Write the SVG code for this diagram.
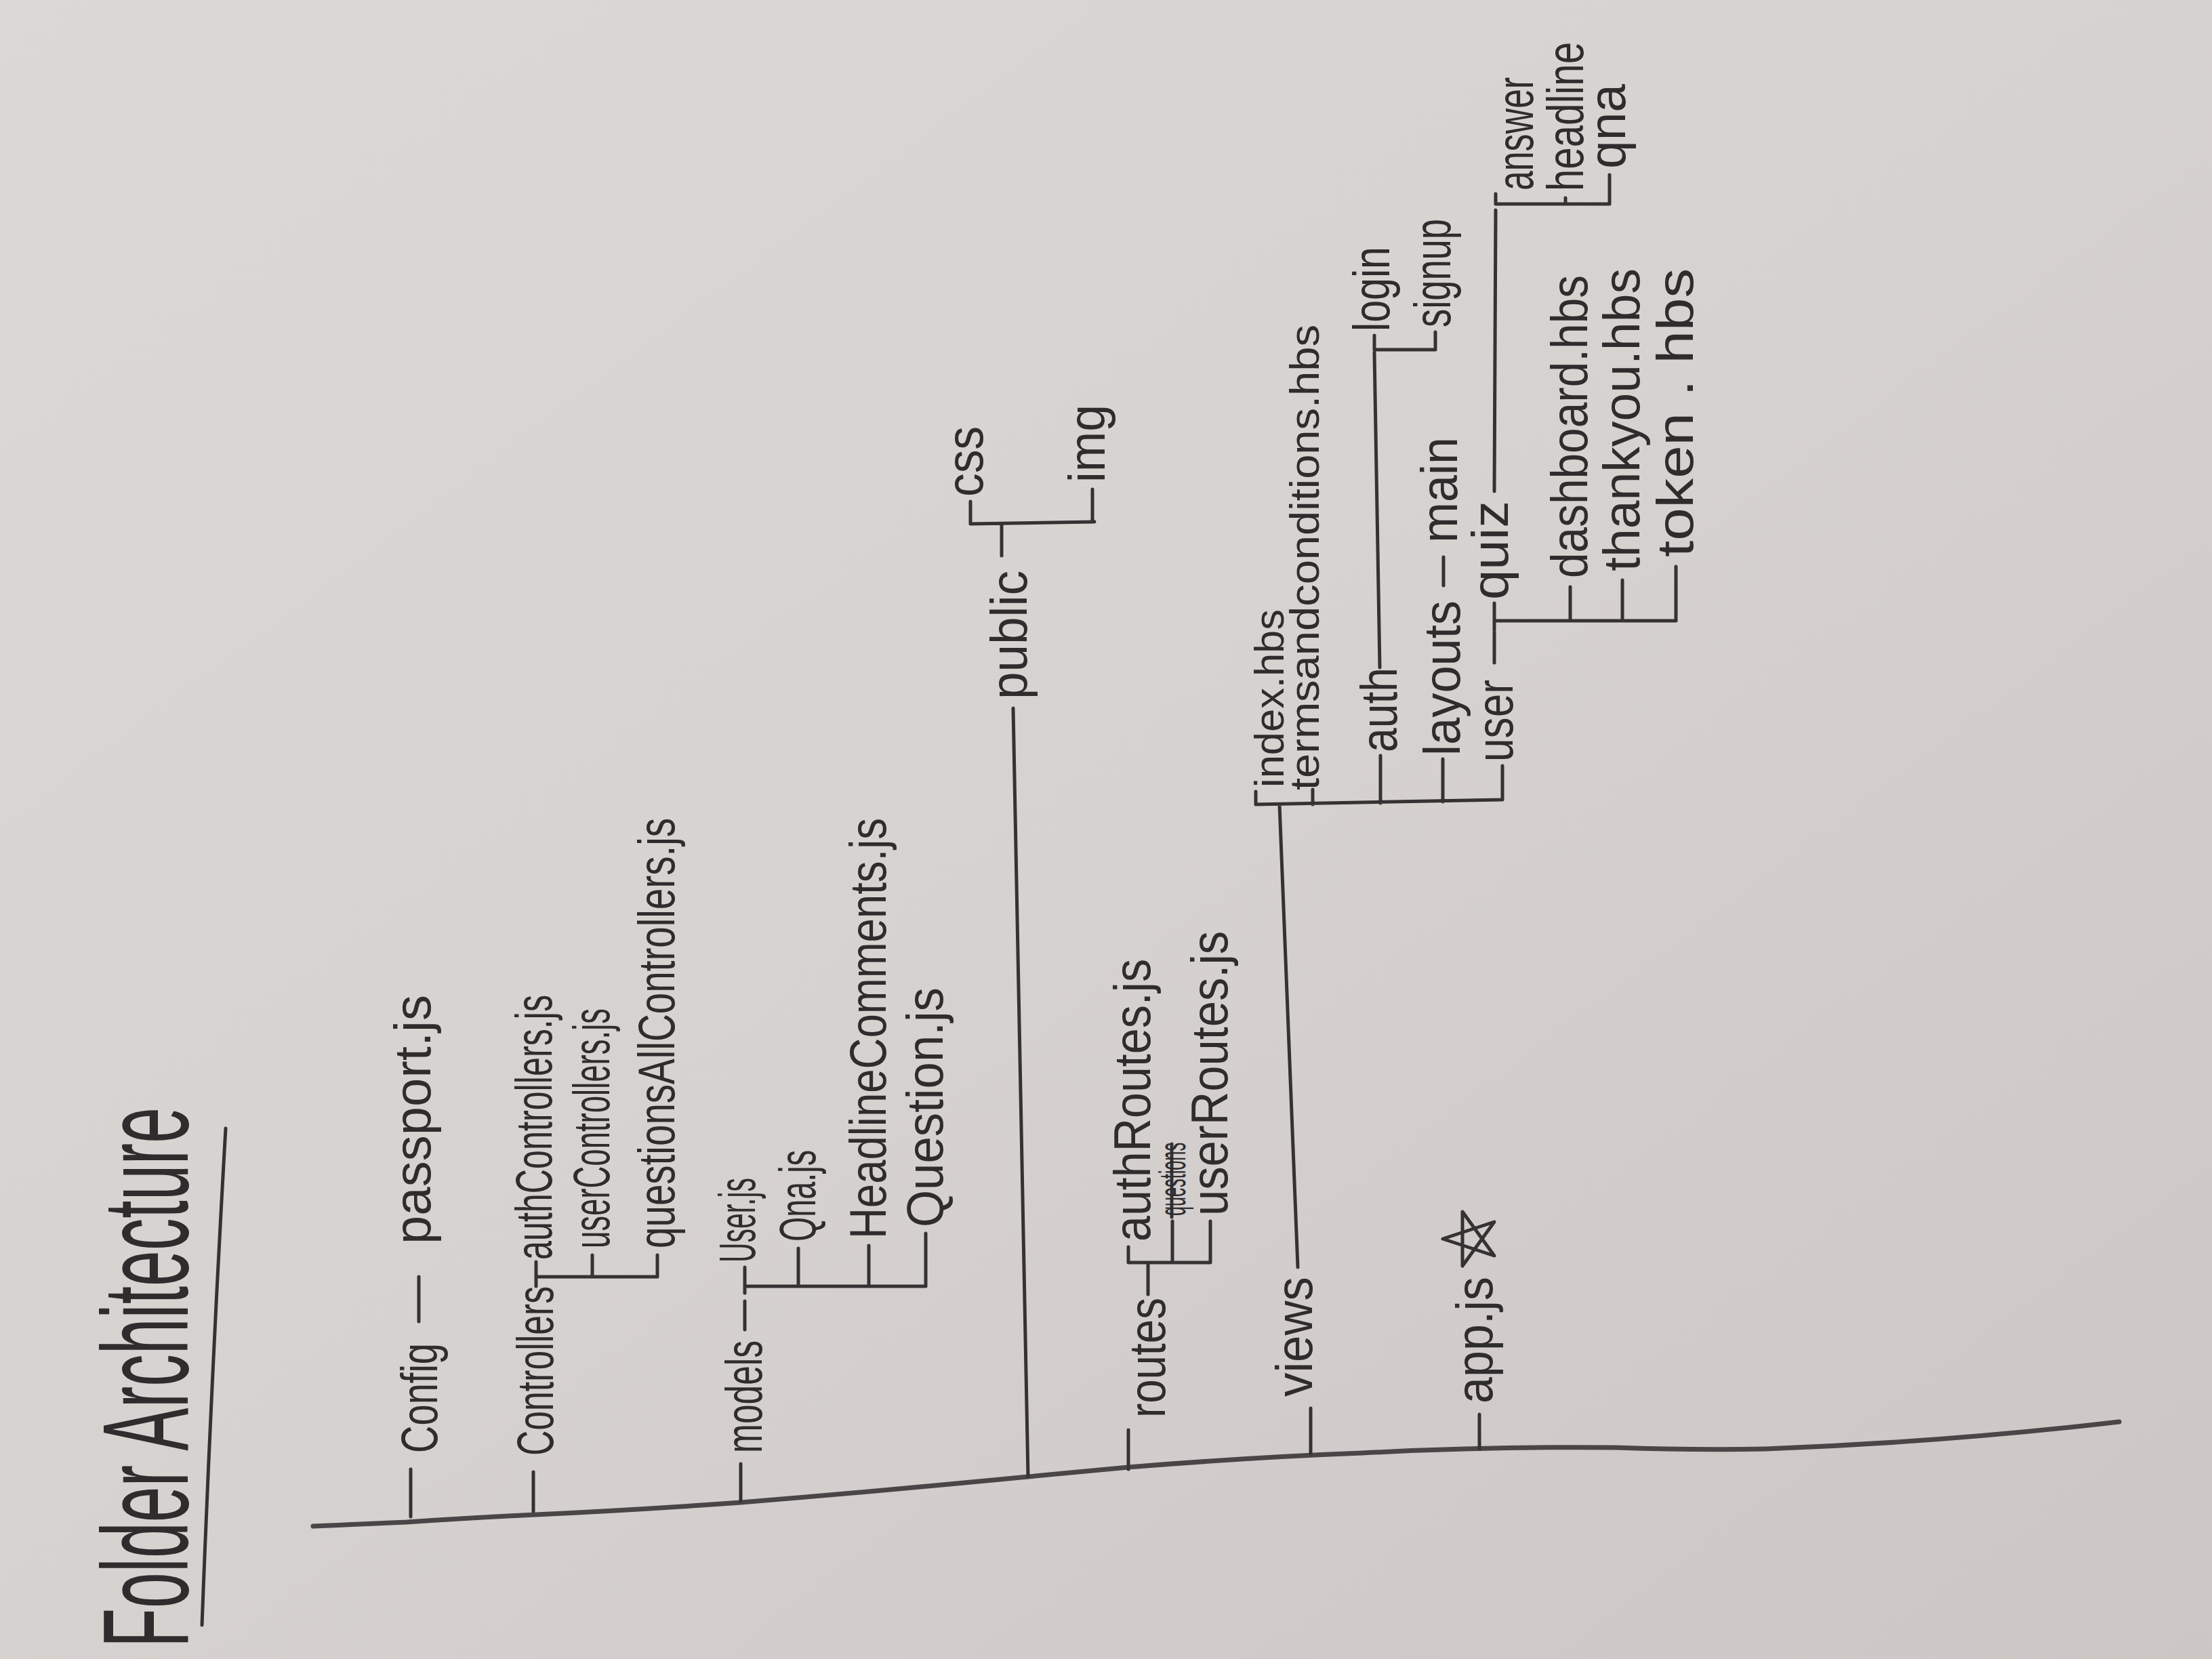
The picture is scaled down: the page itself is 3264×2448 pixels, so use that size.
<svg xmlns="http://www.w3.org/2000/svg" width="3264" height="2448" viewBox="0 0 3264 2448">
<defs>
<linearGradient id="paper" x1="0" y1="0" x2="1" y2="1">
<stop offset="0" stop-color="#dcd8d6"/>
<stop offset="0.5" stop-color="#d6d2d0"/>
<stop offset="1" stop-color="#ccc6c5"/>
</linearGradient>
<style>
.t{font-family:"Liberation Sans","DejaVu Sans",sans-serif;font-size:76px;fill:#2f2c2e}
.s{font-size:62px}
.ttl{font-size:180px}
.ln{fill:none;stroke:#353234;stroke-width:5;stroke-linecap:round;stroke-linejoin:round}
.tr{stroke:#4a4648;stroke-width:7}
</style>
</defs>
<rect width="3264" height="2448" fill="url(#paper)"/>

<g id="connectors" class="ln">
<path class="tr" d="M462,2252 L600,2246 Q690,2240 770,2236 Q940,2228 1093,2217 Q1300,2200 1517,2179 L1665,2165 Q1850,2150 2010,2144 Q2200,2134 2384,2136 Q2500,2140 2605,2138 Q2870,2128 3127,2098"/>
<path d="M298,2398 Q312,2030 333,1665"/>
<path d="M606,2238 L606,2168"/>
<path d="M618,1950 L618,1884"/>
<path d="M787,2230 L787,2172"/>
<path d="M791,1898 L791,1862 M791,1884 L970,1884 M874,1884 L874,1852 M970,1884 L970,1852"/>
<path d="M1093,2215 L1093,2160"/>
<path d="M1099,1962 L1099,1920 M1099,1908 L1099,1870 M1099,1898 L1366,1898 M1178,1898 L1178,1842 M1282,1898 L1282,1838 M1366,1898 L1366,1820"/>
<path d="M1517,2179 L1495,1045"/>
<path d="M1478,820 L1478,773 M1432,773 L1615,770 M1432,773 L1432,740 M1612,770 L1612,722"/>
<path d="M1665,2168 L1665,2110"/>
<path d="M1694,1910 L1694,1863 M1665,1863 L1786,1863 M1665,1863 L1665,1840 M1730,1863 L1730,1802 M1786,1863 L1786,1802"/>
<path d="M1729,1796 L1729,1688"/>
<path d="M1934,2145 L1934,2078"/>
<path d="M1915,1870 L1888,1187 M1853,1187 L2217,1180 M1853,1187 L1853,1168 M1937,1187 L1937,1165 M2037,1185 L2037,1115 M2129,1183 L2129,1120 M2217,1180 L2217,1130"/>
<path d="M2036,985 L2028,520 M2028,516 L2118,516 M2028,516 L2028,495 M2118,516 L2118,490"/>
<path d="M2130,864 L2130,822"/>
<path d="M2205,978 L2205,933 M2205,916 L2473,916 M2205,930 L2205,890 M2317,916 L2317,866 M2394,916 L2394,856 M2473,916 L2473,836"/>
<path d="M2205,725 L2207,310 M2207,301 L2375,301 M2207,301 L2207,286 M2310,301 L2310,292 M2375,301 L2375,258"/>
<path d="M2183,2138 L2183,2087"/>
</g>

<g id="title"><text class="t ttl" transform="translate(277,2431) rotate(-90)" textLength="797" lengthAdjust="spacingAndGlyphs">Folder Architecture</text></g>
<g id="n-config"><text class="t" transform="translate(645,2144) rotate(-90)" textLength="162" lengthAdjust="spacingAndGlyphs">Config</text></g>
<g id="n-passport"><text class="t" transform="translate(635,1836) rotate(-90)" textLength="368" lengthAdjust="spacingAndGlyphs">passport.js</text></g>
<g id="n-controllers"><text class="t" transform="translate(816,2148) rotate(-90)" textLength="250" lengthAdjust="spacingAndGlyphs">Controllers</text></g>
<g id="n-authcontrollers"><text class="t" transform="translate(814,1859) rotate(-90)" textLength="391" lengthAdjust="spacingAndGlyphs">authControllers.js</text></g>
<g id="n-usercontrollers"><text class="t" transform="translate(899,1842) rotate(-90)" textLength="354" lengthAdjust="spacingAndGlyphs">userControllers.js</text></g>
<g id="n-questionsall"><text class="t" transform="translate(995,1842) rotate(-90)" textLength="635" lengthAdjust="spacingAndGlyphs">questionsAllControllers.js</text></g>
<g id="n-models"><text class="t" transform="translate(1124,2144) rotate(-90)" textLength="166" lengthAdjust="spacingAndGlyphs">models</text></g>
<g id="n-user-model"><text class="t" transform="translate(1114,1863) rotate(-90)" textLength="125" lengthAdjust="spacingAndGlyphs">User.js</text></g>
<g id="n-qna-model"><text class="t" transform="translate(1203,1832) rotate(-90)" textLength="135" lengthAdjust="spacingAndGlyphs">Qna.js</text></g>
<g id="n-headline-model"><text class="t" transform="translate(1307,1828) rotate(-90)" textLength="621" lengthAdjust="spacingAndGlyphs">HeadlineComments.js</text></g>
<g id="n-question-model"><text class="t" transform="translate(1391,1811) rotate(-90)" textLength="354" lengthAdjust="spacingAndGlyphs">Question.js</text></g>
<g id="n-public"><text class="t" transform="translate(1515,1032) rotate(-90)" textLength="190" lengthAdjust="spacingAndGlyphs">public</text></g>
<g id="n-css"><text class="t" transform="translate(1450,733) rotate(-90)" textLength="104" lengthAdjust="spacingAndGlyphs">css</text></g>
<g id="n-img"><text class="t" transform="translate(1630,712) rotate(-90)" textLength="115" lengthAdjust="spacingAndGlyphs">img</text></g>
<g id="n-routes"><text class="t" transform="translate(1719,2092) rotate(-90)" textLength="177" lengthAdjust="spacingAndGlyphs">routes</text></g>
<g id="n-authroutes"><text class="t" transform="translate(1697,1832) rotate(-90)" textLength="417" lengthAdjust="spacingAndGlyphs">authRoutes.js</text></g>
<g id="n-questions-struck"><text class="t" style="font-size:55px" transform="translate(1749,1794) rotate(-90)" textLength="108" lengthAdjust="spacingAndGlyphs">questions</text></g>
<g id="n-userroutes"><text class="t" transform="translate(1811,1794) rotate(-90)" textLength="420" lengthAdjust="spacingAndGlyphs">userRoutes.js</text></g>
<g id="n-views"><text class="t" transform="translate(1936,2061) rotate(-90)" textLength="177" lengthAdjust="spacingAndGlyphs">views</text></g>
<g id="n-index"><text class="t s" transform="translate(1894,1162) rotate(-90)" textLength="263" lengthAdjust="spacingAndGlyphs">index.hbs</text></g>
<g id="n-terms"><text class="t s" transform="translate(1946,1166) rotate(-90)" textLength="687" lengthAdjust="spacingAndGlyphs">termsandconditions.hbs</text></g>
<g id="n-auth"><text class="t" transform="translate(2061,1110) rotate(-90)" textLength="125" lengthAdjust="spacingAndGlyphs">auth</text></g>
<g id="n-login"><text class="t" transform="translate(2050,489) rotate(-90)" textLength="125" lengthAdjust="spacingAndGlyphs">login</text></g>
<g id="n-signup"><text class="t" transform="translate(2140,483) rotate(-90)" textLength="160" lengthAdjust="spacingAndGlyphs">signup</text></g>
<g id="n-layouts"><text class="t" transform="translate(2154,1115) rotate(-90)" textLength="229" lengthAdjust="spacingAndGlyphs">layouts</text></g>
<g id="n-main"><text class="t" transform="translate(2150,801) rotate(-90)" textLength="156" lengthAdjust="spacingAndGlyphs">main</text></g>
<g id="n-user"><text class="t" transform="translate(2232,1124) rotate(-90)" textLength="121" lengthAdjust="spacingAndGlyphs">user</text></g>
<g id="n-quiz"><text class="t" transform="translate(2225,885) rotate(-90)" textLength="146" lengthAdjust="spacingAndGlyphs">quiz</text></g>
<g id="n-answer"><text class="t" transform="translate(2262,281) rotate(-90)" textLength="167" lengthAdjust="spacingAndGlyphs">answer</text></g>
<g id="n-headline"><text class="t" transform="translate(2336,282) rotate(-90)" textLength="220" lengthAdjust="spacingAndGlyphs">headline</text></g>
<g id="n-qna"><text class="t" transform="translate(2398,249) rotate(-90)" textLength="125" lengthAdjust="spacingAndGlyphs">qna</text></g>
<g id="n-dashboard"><text class="t" transform="translate(2342,853) rotate(-90)" textLength="447" lengthAdjust="spacingAndGlyphs">dashboard.hbs</text></g>
<g id="n-thankyou"><text class="t" transform="translate(2419,843) rotate(-90)" textLength="447" lengthAdjust="spacingAndGlyphs">thankyou.hbs</text></g>
<g id="n-token"><text class="t" transform="translate(2498,822) rotate(-90)" textLength="426" lengthAdjust="spacingAndGlyphs">token . hbs</text></g>
<g id="n-app"><text class="t" transform="translate(2202,2071) rotate(-90)" textLength="187" lengthAdjust="spacingAndGlyphs">app.js</text>
<path class="ln" d="M2129,1828 L2205,1803 L2158,1868 L2158,1788 L2205,1853 Z"/></g>
</svg>
